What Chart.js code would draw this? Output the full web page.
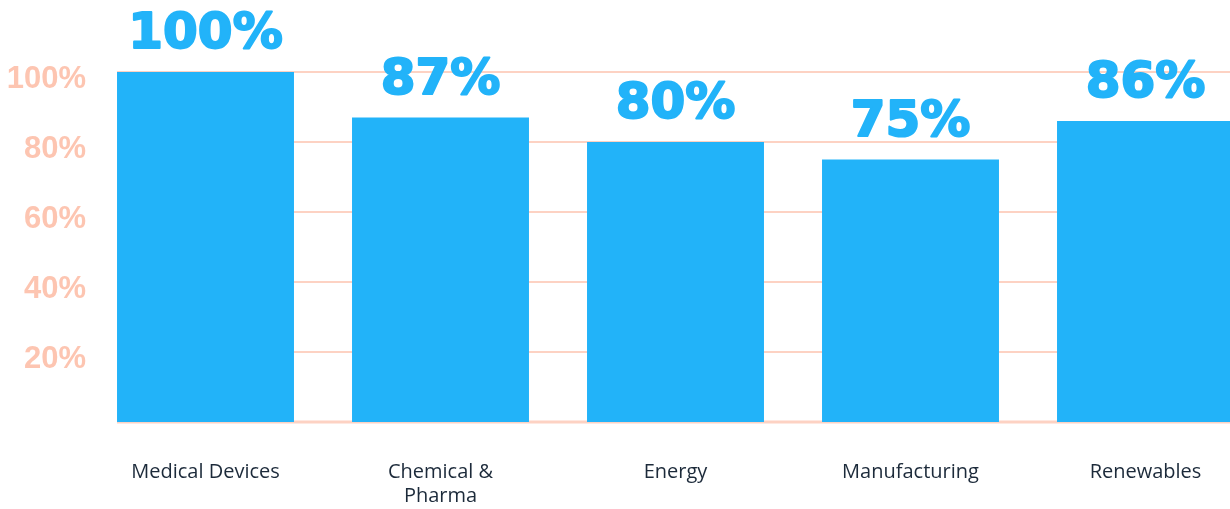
<!DOCTYPE html>
<html>
<head>
<meta charset="utf-8">
<script src="https://cdn.jsdelivr.net/npm/chart.js@4/dist/chart.umd.min.js"></script>
<style>
  html, body { margin: 0; padding: 0; background: #fff; overflow: hidden; }
  #wrap { position: relative; width: 1263px; height: 509px; }
</style>
</head>
<body>
<div id="wrap"><canvas id="chart" width="1263" height="509"></canvas></div>
<script>
const sectors = [['Medical Devices'], ['Chemical &', 'Pharma'], ['Energy'], ['Manufacturing'], ['Renewables']];
const shares = [100, 87, 80, 75, 86];
const yTicks = [20, 40, 60, 80, 100];

const barBlue = '#22b3f9';
const peach = '#fdc5b1';
const lineColor = '#fdd2c3';

// horizontal rules start at the first bar, not at the axis
const gridLines = {
    id: 'gridLines',
    beforeDatasetsDraw(chart) {
        const {ctx, chartArea, scales: {y}} = chart;
        const first = chart.getDatasetMeta(0).data[0];
        const left = first.x - first.width / 2;
        ctx.save();
        ctx.strokeStyle = lineColor;
        [0, ...yTicks].forEach(v => {
            const py = Math.round(y.getPixelForValue(v));
            ctx.lineWidth = v === 0 ? 3 : 2;
            ctx.beginPath();
            ctx.moveTo(left, py);
            ctx.lineTo(chartArea.right, py);
            ctx.stroke();
        });
        ctx.restore();
    }
};

// big percentage above every bar
const valueLabels = {
    id: 'valueLabels',
    afterDatasetsDraw(chart) {
        const {ctx} = chart;
        ctx.save();
        ctx.font = 'bold 50px "DejaVu Sans"';
        ctx.fillStyle = barBlue;
        ctx.strokeStyle = barBlue;
        ctx.lineWidth = 2;
        ctx.lineJoin = 'round';
        ctx.textAlign = 'center';
        ctx.textBaseline = 'alphabetic';
        chart.getDatasetMeta(0).data.forEach((bar, i) => {
            const txt = shares[i] + '%';
            ctx.fillText(txt, bar.x, bar.y - 24);
            ctx.strokeText(txt, bar.x, bar.y - 24);
        });
        ctx.restore();
    }
};

const data = {
    labels: sectors,
    datasets: [{
        data: shares,
        backgroundColor: barBlue,
        borderWidth: 0,
        barPercentage: 0.753,
        categoryPercentage: 1
    }]
};

const config = {
    type: 'bar',
    data: data,
    options: {
        responsive: false,
        animation: false,
        layout: {
            padding: {top: 72, left: 4, right: 0, bottom: 0}
        },
        plugins: {
            legend: {display: false},
            tooltip: {enabled: false}
        },
        scales: {
            x: {
                grid: {display: false},
                border: {display: false},
                ticks: {
                    color: '#1c2a3a',
                    font: {family: '"Open Sans"', size: 20},
                    padding: 30,
                    maxRotation: 0,
                    autoSkip: false
                },
                afterFit(scale) {
                    scale.height = 87;
                }
            },
            y: {
                min: 0,
                max: 100,
                grid: {display: false, drawTicks: false},
                border: {display: false},
                ticks: {
                    stepSize: 20,
                    color: peach,
                    font: {family: '"Liberation Sans"', size: 31, weight: 'bold'},
                    crossAlign: 'near',
                    padding: 2,
                    labelOffset: 7,
                    callback: v => v === 0 ? '' : v + '%'
                },
                afterFit(scale) {
                    scale.width = 84;
                }
            }
        }
    },
    plugins: [gridLines, valueLabels]
};

const myChart = new Chart(document.getElementById('chart'), config);
</script>
</body>
</html>
